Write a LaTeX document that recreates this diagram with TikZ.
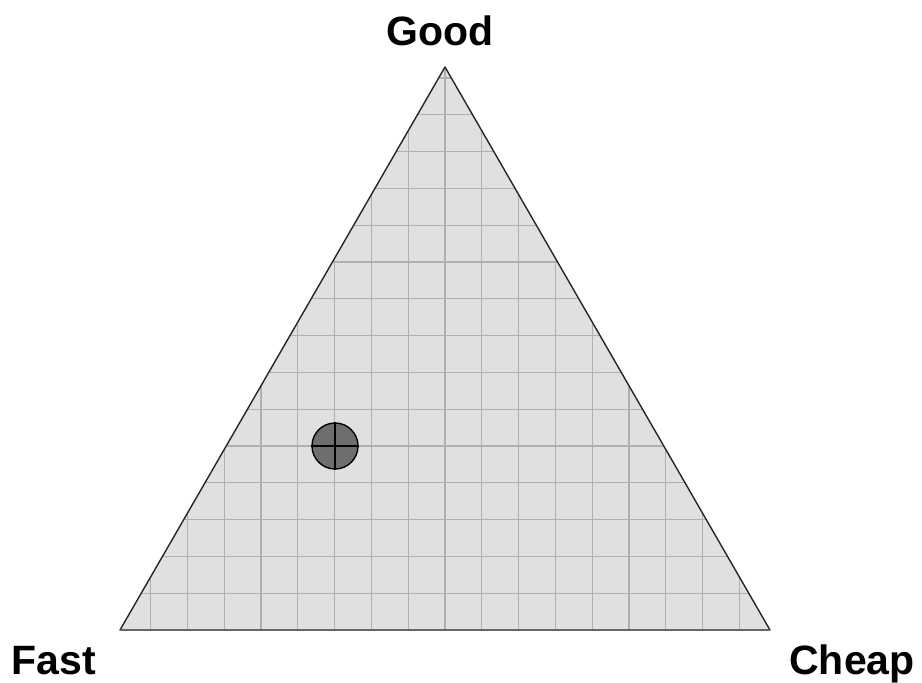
\documentclass[tikz,border=0pt]{standalone}
\usepackage{fontspec}
\setmainfont{Liberation Sans}
\definecolor{trifill}{HTML}{E0E0E0}
\definecolor{gridcol}{HTML}{B0B0B0}
\definecolor{markfill}{HTML}{6E6E6E}
\tikzset{
  gridline/.style={draw=gridcol, line width=1.3pt},
  outline/.style={draw=black!85, line width=1.4pt, line join=round},
  baseline/.style={draw=black!60, line width=2.6pt},
  label/.style={font=\fontsize{41}{48}\selectfont\bfseries, inner sep=0pt, anchor=base},
  marker/.style={circle, draw=black, line width=1.4pt, fill=markfill, minimum size=46pt, inner sep=0pt},
}
\begin{document}
\begin{tikzpicture}[x=1pt,y=-1pt]
\useasboundingbox (0,0) rectangle (922,683);
\coordinate (A) at (445,67);
\coordinate (B) at (120,630);
\coordinate (C) at (770,630);
\begin{scope}
  \clip (A)--(B)--(C)--cycle;
  \fill[trifill] (A)--(B)--(C)--cycle;
  \foreach \k in {1,...,15} \draw[gridline] (100,{630-36.8*\k}) -- (800,{630-36.8*\k});
  \foreach \k in {-9,...,9} \draw[gridline] ({445+36.8*\k},50) -- ({445+36.8*\k},640);
\end{scope}
\draw[outline] (A)--(B)--(C)--cycle;
\draw[baseline] (B) -- (C);
\node[marker] (mk) at (335,446) {};
\draw[line width=1.6pt] (mk.north) -- (mk.south);
\draw[line width=1.6pt] (mk.west) -- (mk.east);
\node[label] (good) at (440,45) {Good};
\node[label] (fast) at (54,674) {Fast};
\node[label] (cheap) at (852,674) {Cheap};
\end{tikzpicture}
\end{document}
